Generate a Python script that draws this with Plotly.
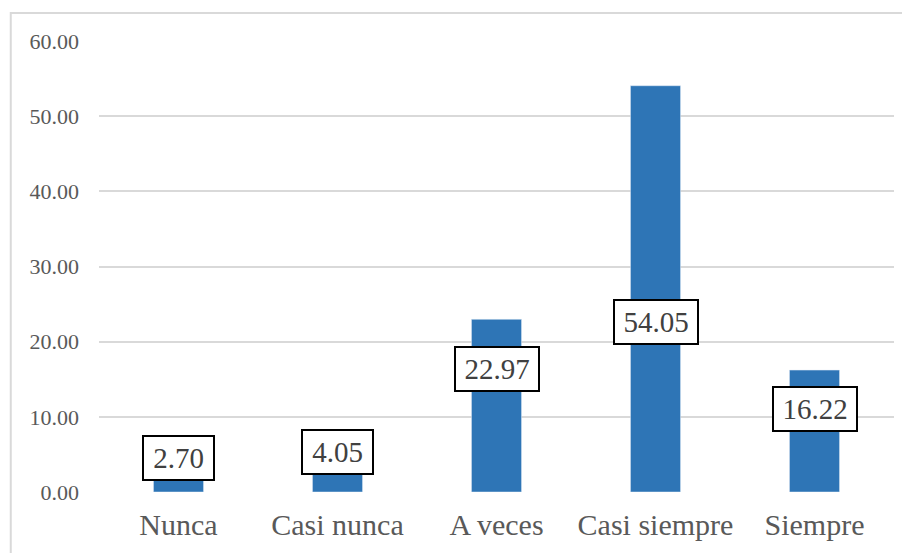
import plotly.graph_objects as go

categories = ["Nunca", "Casi nunca", "A veces", "Casi siempre", "Siempre"]
values = [2.70, 4.05, 22.97, 54.05, 16.22]
y_ticks = [0, 10, 20, 30, 40, 50, 60]

# where each value box sits on the y axis (as placed in the original)
label_pos = [4.5, 5.3, 16.3, 22.6, 11.0]

serif = "Times New Roman, Liberation Serif, serif"

fig = go.Figure()

fig.add_trace(go.Bar(
    x=categories,
    y=values,
    marker_color="#2E75B6",
    width=0.315,
    hoverinfo="x+y"
))

for cat, val, pos in zip(categories, values, label_pos):
    box_w = 72 if val >= 10 else 59
    fig.add_annotation(
        x=cat, y=pos,
        text=f"{val:.2f}",
        showarrow=False,
        width=box_w,
        font=dict(family=serif, size=29, color="#404040"),
        bgcolor="white",
        bordercolor="black",
        borderwidth=2,
        borderpad=5
    )

# light grey chart frame
fig.add_shape(
    type="rect", xref="paper", yref="paper",
    x0=-0.111, x1=1.1, y0=-0.3, y1=1.062,
    line=dict(color="#d9d9d9", width=2),
    fillcolor="rgba(0,0,0,0)",
    layer="below"
)

fig.update_layout(
    width=910,
    height=553,
    margin=dict(l=91, r=24, t=33, b=69),
    paper_bgcolor="white",
    plot_bgcolor="white",
    showlegend=False,
    font=dict(family=serif, color="#595959"),
    xaxis=dict(
        showgrid=False,
        showline=False,
        ticks="",
        tickfont=dict(family=serif, size=30, color="#595959"),
        ticklabelstandoff=12
    ),
    yaxis=dict(
        range=[0, 60],
        tickvals=y_ticks,
        tickformat=".2f",
        showgrid=True,
        gridcolor="#d9d9d9",
        gridwidth=2,
        zeroline=False,
        showline=False,
        ticks="",
        tickfont=dict(family=serif, size=22, color="#595959"),
        ticklabelstandoff=19
    )
)

fig.write_html("out.html")
